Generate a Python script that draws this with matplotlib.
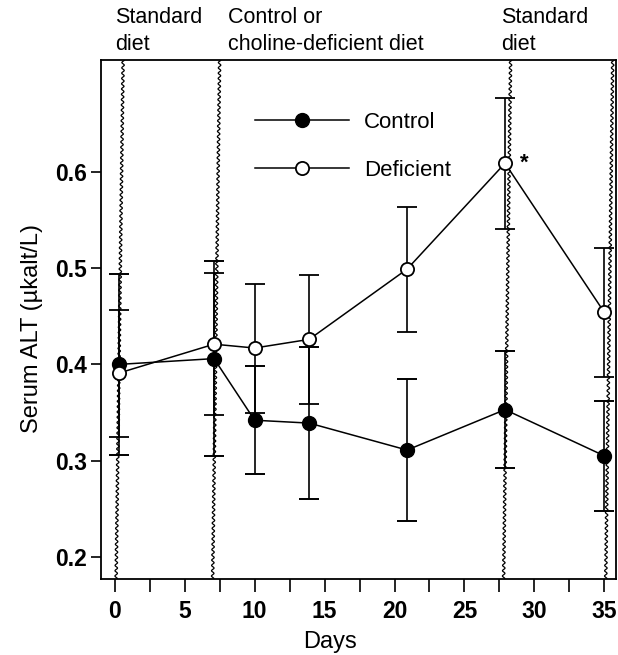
import numpy as np
import matplotlib.pyplot as plt
from matplotlib.ticker import MultipleLocator

plt.rcParams['font.family'] = ['Liberation Sans', 'DejaVu Sans']

# values
days = [0.3, 7.1, 10.0, 13.9, 20.9, 27.9, 35.0]
control = [0.400, 0.406, 0.342, 0.339, 0.311, 0.353, 0.305]
control_err = [0.094, 0.101, 0.056, 0.079, 0.074, 0.061, 0.057]
deficient = [0.391, 0.421, 0.417, 0.426, 0.499, 0.609, 0.454]
deficient_err = [0.066, 0.074, 0.067, 0.067, 0.065, 0.068, 0.067]

diet_changes = [0.1, 7.0, 27.8, 35.1]
phase_labels = ["Standard\ndiet", "Control or\ncholine-deficient diet", "Standard\ndiet"]
phase_label_x = [0.0, 8.1, 27.6]

fig = plt.figure(figsize=(6.18, 6.55), dpi=100)
ax = fig.add_axes([0.163, 0.116, 0.833, 0.792])

ymin, ymax = 0.177, 0.716
ax.set_xlim(-1.0, 35.8)
ax.set_ylim(ymin, ymax)

# wavy diet-change lines
yy = np.linspace(ymin, ymax, 1200)
for pos in diet_changes:
    xx = pos + 0.09 * np.sin(2 * np.pi * yy / 0.0055) + 0.5 * (yy - ymin) / (ymax - ymin)
    ax.plot(xx, yy, color='black', lw=0.9, zorder=1)

ax.errorbar(days, control, yerr=control_err, fmt='-o', color='black', lw=1.1,
            elinewidth=1.2, capsize=7.5, capthick=1.4, ms=10, mfc='black',
            mec='black', label='Control', zorder=3)
ax.errorbar(days, deficient, yerr=deficient_err, fmt='-o', color='black', lw=1.1,
            elinewidth=1.2, capsize=7.5, capthick=1.4, ms=9.5, mfc='white',
            mec='black', mew=1.3, label='Deficient', zorder=4)

ax.text(days[5] + 1.1, deficient[5], '*', fontsize=16, fontweight='bold',
        ha='left', va='center')

for x, txt in zip(phase_label_x, phase_labels):
    ax.text(x, 1.019, txt, transform=ax.get_xaxis_transform(), fontsize=15.5,
            ha='left', va='baseline', linespacing=1.4)

handles, labels = ax.get_legend_handles_labels()
handles = [h[0] for h in handles]
ax.legend(handles, labels, loc='upper left', bbox_to_anchor=(0.30, 0.90),
          frameon=False, fontsize=16, handlelength=4.2, handletextpad=0.7,
          labelspacing=1.2, borderpad=0, borderaxespad=0)

ax.set_yticks([0.2, 0.3, 0.4, 0.5, 0.6])
ax.set_yticklabels(['0.2', '0.3', '0.4', '0.5', '0.6'])
ax.xaxis.set_major_locator(MultipleLocator(5))
ax.xaxis.set_minor_locator(MultipleLocator(2.5))
ax.tick_params(axis='both', which='both', direction='out', width=1.2, labelsize=16.5)
ax.tick_params(axis='x', which='both', length=9, pad=6)
ax.tick_params(axis='y', which='both', length=7, pad=3)
for lab in ax.get_xticklabels() + ax.get_yticklabels():
    lab.set_fontweight('bold')

ax.set_xlabel('Days', fontsize=17)
ax.xaxis.set_label_coords(0.445, -0.10)
ax.set_ylabel('Serum ALT (µkalt/L)', fontsize=17)
ax.yaxis.set_label_coords(-0.112, 0.483)
for sp in ax.spines.values():
    sp.set_linewidth(1.3)

fig.savefig('out.png', dpi=100)
